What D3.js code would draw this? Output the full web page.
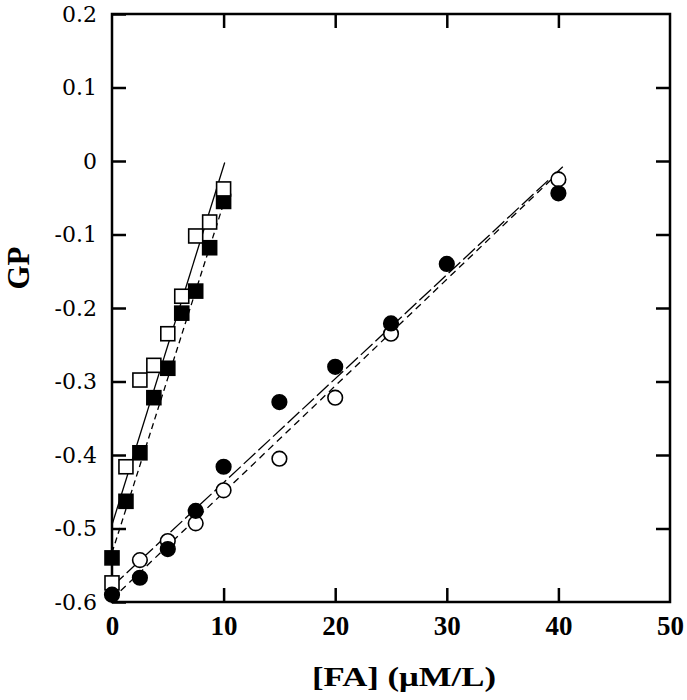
<!DOCTYPE html>
<html><head><meta charset="utf-8">
<script src="https://cdn.jsdelivr.net/npm/d3@7"></script>
<style>body{margin:0;background:#fff}</style>
</head><body>
<svg id="chart" width="687" height="700"></svg>
<script>
// ---- data ----
const sqX = [0, 1.25, 2.5, 3.75, 5, 6.25, 7.5, 8.75, 10];
const filledSquareY = [-0.540, -0.463, -0.397, -0.322, -0.282, -0.207, -0.177, -0.118, -0.055];
const openSquareY   = [-0.574, -0.416, -0.298, -0.278, -0.235, -0.184, -0.102, -0.083, -0.038];
const filledCircleX = [0, 2.5, 5, 7.5, 10, 15, 20, 25, 30, 40];
const filledCircleY = [-0.590, -0.567, -0.528, -0.476, -0.416, -0.328, -0.280, -0.221, -0.140, -0.044];
const openCircleX = [2.5, 5, 7.5, 10, 15, 20, 25, 40];
const openCircleY = [-0.543, -0.517, -0.493, -0.448, -0.405, -0.322, -0.235, -0.025];
// fitted lines: [intercept, slope, xStart, xEnd]
const fitOpenSquare   = [-0.495, 0.0488, 0, 10.1];
const fitFilledSquare = [-0.533, 0.0475, 0, 10];
const fitFilledCircle = [-0.579, 0.01414, 0, 40.4];
const fitOpenCircle   = [-0.596, 0.0145, 0, 40.4];
const xTicks = [0, 10, 20, 30, 40, 50];
const yTicks = [-0.6, -0.5, -0.4, -0.3, -0.2, -0.1, 0, 0.1, 0.2];
const xTitle = "[FA] (\u03BCM/L)";
const yTitle = "GP";

// ---- chart ----
const svg = d3.select("#chart");
const x = d3.scaleLinear().domain([0, 50]).range([112, 670]);
const y = d3.scaleLinear().domain([-0.6, 0.2]).range([602, 14]);
const fmtY = v => (Math.abs(v) < 1e-9 ? "0" : d3.format(".1f")(v)).replace("\u2212", "-");

// frame
svg.append("rect").attr("x", x(0)).attr("y", y(0.2))
  .attr("width", x(50) - x(0)).attr("height", y(-0.6) - y(0.2))
  .attr("fill", "none").attr("stroke", "#000").attr("stroke-width", 2.5);

const styleAxis = (g) => {
  g.select(".domain").remove();
  g.selectAll(".tick line").attr("stroke", "#000").attr("stroke-width", 2.5);
};

// left axis with labels
svg.append("g").attr("transform", `translate(${x(0)},0)`)
  .call(d3.axisLeft(y).tickValues(yTicks).tickSize(-14).tickPadding(15).tickFormat(fmtY))
  .call(styleAxis)
  .call(g => g.selectAll("text").attr("font-family", "DejaVu Serif").attr("font-size", 22).attr("fill", "#000"));
// right axis
svg.append("g").attr("transform", `translate(${x(50)},0)`)
  .call(d3.axisRight(y).tickValues(yTicks.slice(1, -1)).tickSize(-14).tickFormat(""))
  .call(styleAxis);
// bottom axis with labels
svg.append("g").attr("transform", `translate(0,${y(-0.6)})`)
  .call(d3.axisBottom(x).tickValues(xTicks).tickSize(-14).tickPadding(14).tickFormat(d3.format("d")))
  .call(styleAxis)
  .call(g => g.selectAll(".tick").filter(d => d === 0 || d === 50).select("line").remove())
  .call(g => g.selectAll("text").attr("font-family", "Liberation Serif").attr("font-weight", "bold")
    .attr("font-size", 27).attr("fill", "#000"));
// top axis
svg.append("g").attr("transform", `translate(0,${y(0.2)})`)
  .call(d3.axisTop(x).tickValues(xTicks.slice(1, -1)).tickSize(-14).tickFormat(""))
  .call(styleAxis);

// titles
svg.append("text").attr("x", 404).attr("y", 686).attr("text-anchor", "middle")
  .attr("font-family", "Liberation Serif").attr("font-weight", "bold").attr("font-size", 28)
  .attr("textLength", 184).attr("lengthAdjust", "spacingAndGlyphs").text(xTitle);
svg.append("text").attr("transform", "translate(29,268) rotate(-90)")
  .attr("text-anchor", "middle").attr("font-family", "Liberation Serif").attr("font-weight", "bold")
  .attr("font-size", 31).text(yTitle);

// fit lines
const line = d3.line().x(d => x(d[0])).y(d => y(d[1]));
const drawFit = (f, dash) => {
  const pts = [f[2], f[3]].map(v => [v, f[0] + f[1] * v]);
  svg.append("path").attr("d", line(pts)).attr("fill", "none").attr("stroke", "#000")
    .attr("stroke-width", 1.3).attr("stroke-dasharray", dash);
};
drawFit(fitOpenSquare, null);
drawFit(fitFilledSquare, "6,4");
drawFit(fitFilledCircle, "16,4");
drawFit(fitOpenCircle, "7,5");

// markers
const S = 14;
const drawSquares = (ys, fill) => svg.append("g").selectAll("rect").data(sqX.map((v, i) => [v, ys[i]]))
  .join("rect").attr("x", d => x(d[0]) - S / 2).attr("y", d => y(d[1]) - S / 2)
  .attr("width", S).attr("height", S).attr("fill", fill).attr("stroke", "#000").attr("stroke-width", 1.6);
const drawCircles = (xs, ys, fill) => svg.append("g").selectAll("circle").data(xs.map((v, i) => [v, ys[i]]))
  .join("circle").attr("cx", d => x(d[0])).attr("cy", d => y(d[1])).attr("r", 7.3)
  .attr("fill", fill).attr("stroke", "#000").attr("stroke-width", 1.6);

drawSquares(filledSquareY, "#000");
drawSquares(openSquareY, "#fff");
drawCircles(openCircleX, openCircleY, "#fff");
drawCircles(filledCircleX, filledCircleY, "#000");
</script>
</body></html>
